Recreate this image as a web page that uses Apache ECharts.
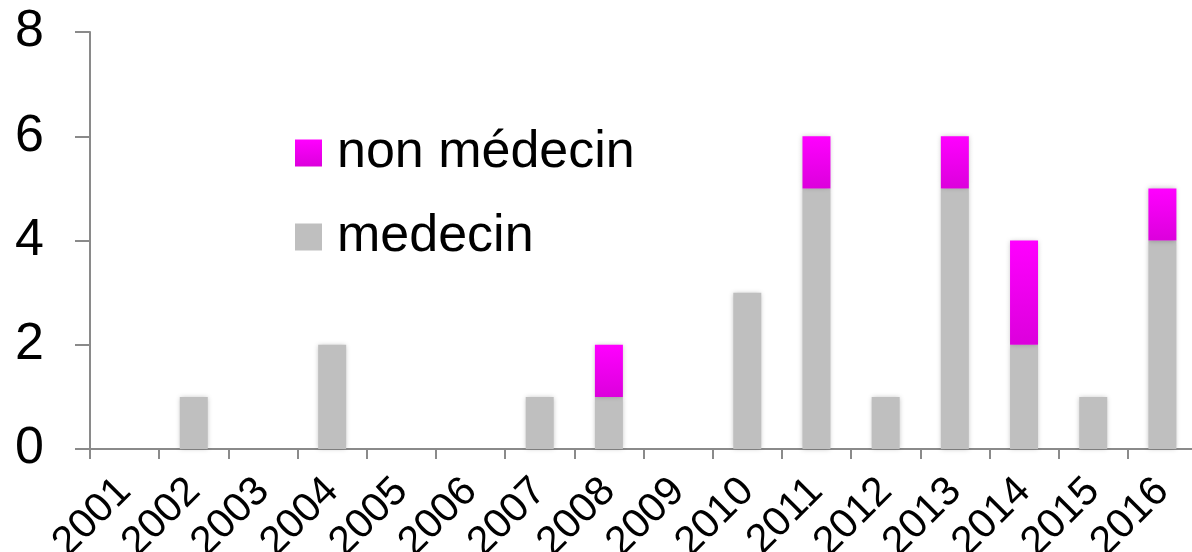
<!DOCTYPE html>
<html>
<head>
<meta charset="utf-8">
<script src="https://cdn.jsdelivr.net/npm/echarts@6/dist/echarts.min.js"></script>
<style>
html,body{margin:0;padding:0;background:#fff;}
#chart{width:1192px;height:552px;}
</style>
</head>
<body>
<div id="chart"></div>
<script>
// Annual counts, split by profession
const years = ['2001','2002','2003','2004','2005','2006','2007','2008','2009','2010','2011','2012','2013','2014','2015','2016'];
const medecin = [0,1,0,2,0,0,1,1,0,3,5,1,5,2,1,4];
const nonMedecin = [0,0,0,0,0,0,0,1,0,0,1,0,1,2,0,1];
const yTicks = [0,2,4,6,8];

const FONT = '"Liberation Sans", Arial, sans-serif';
const axisGrey = '#8a8a8a';

const magenta = new echarts.graphic.LinearGradient(0,0,0,1,[
  {offset:0,color:'#ff00ff'},
  {offset:1,color:'#dc00dc'}
]);

const chart = echarts.init(document.getElementById('chart'), null, {renderer:'canvas'});
chart.setOption({
  animation:false,
  backgroundColor:'#fff',
  grid:{left:90, top:32, width:1107, height:417, containLabel:false, outerBoundsMode:'none'},
  legend:{
    orient:'vertical', left:290, top:122,
    itemWidth:27, itemHeight:27, itemGap:32,
    icon:'rect',
    textStyle:{fontFamily:FONT, fontSize:52, color:'#000', padding:[0,0,0,10]},
    data:['non médecin','medecin']
  },
  xAxis:{
    type:'category', data:years,
    axisLine:{lineStyle:{color:axisGrey, width:2}},
    axisTick:{show:true, length:10, alignWithLabel:false, lineStyle:{color:axisGrey, width:2}},
    axisLabel:{rotate:45, interval:0, margin:36, fontFamily:FONT, fontSize:41, color:'#000'}
  },
  yAxis:{
    type:'value', min:0, max:8, interval:2,
    axisLine:{show:true, lineStyle:{color:axisGrey, width:2}},
    axisTick:{show:true, inside:false, length:15, lineStyle:{color:axisGrey, width:2}},
    splitLine:{show:false},
    axisLabel:{margin:46, fontFamily:FONT, fontSize:52, color:'#000',
      formatter:v => yTicks.includes(v) ? String(v) : ''}
  },
  series:[
    {
      name:'medecin', type:'bar', stack:'total', data:medecin, barWidth:28,
      itemStyle:{color:'#bfbfbf', shadowBlur:5, shadowColor:'rgba(0,0,0,0.25)'}
    },
    {
      name:'non médecin', type:'bar', stack:'total',
      data:nonMedecin.map(v => v === 0 ? '-' : v), barWidth:28,
      itemStyle:{color:magenta, shadowBlur:5, shadowColor:'rgba(0,0,0,0.25)'}
    }
  ]
});
</script>
</body>
</html>
